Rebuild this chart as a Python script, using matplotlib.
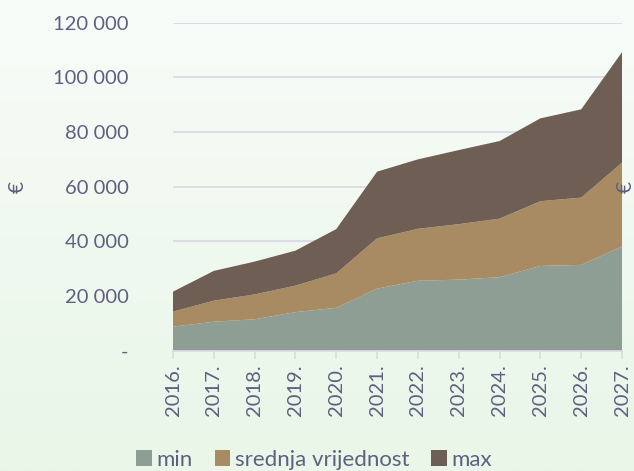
import numpy as np
import matplotlib
matplotlib.use("Agg")
import matplotlib.pyplot as plt
from matplotlib.patches import Patch
from matplotlib.colors import LinearSegmentedColormap

years = ["2016.", "2017.", "2018.", "2019.", "2020.", "2021.", "2022.", "2023.", "2024.", "2025.", "2026.", "2027."]
# cumulative tops (EUR)
min_vals = [8800, 10600, 11500, 14100, 15700, 22700, 25600, 26000, 26900, 31000, 31400, 38100]
mean_top = [14300, 18300, 20600, 23800, 28300, 41100, 44600, 46300, 48300, 54700, 56000, 68800]
max_top = [21600, 29200, 32600, 36600, 44500, 65500, 70000, 73400, 76700, 85000, 88300, 109200]
series_names = ["min", "srednja vrijednost", "max"]
yticks = [0, 20000, 40000, 60000, 80000, 100000, 120000]
ytick_labels = ["-", "20 000", "40 000", "60 000", "80 000", "100 000", "120 000"]

mean_layer = [m - n for m, n in zip(mean_top, min_vals)]
max_layer = [m - n for m, n in zip(max_top, mean_top)]

colors = ["#8e9e94", "#a98b63", "#6e5e54"]
text_color = "#5f6080"
grid_color = "#dcdae6"
font = "Lato"

fig = plt.figure(figsize=(6.34, 4.71), dpi=100)

# background gradient
bg = fig.add_axes([0, 0, 1, 1], zorder=-10)
cmap = LinearSegmentedColormap.from_list("bg", ["#f7fcf8", "#e9f6e8"])
grad = np.linspace(0, 1, 256).reshape(-1, 1)
bg.imshow(grad, aspect="auto", cmap=cmap, extent=[0, 1, 0, 1], origin="upper")
bg.axis("off")

ax = fig.add_axes([173 / 634, 1 - 350.7 / 471, (622 - 173) / 634, (350.7 - 22.7) / 471])
ax.set_facecolor("none")
x = np.arange(len(years))
ax.stackplot(x, min_vals, mean_layer, max_layer, colors=colors, labels=series_names, zorder=3)

ax.set_xlim(0, len(years) - 1)
ax.set_ylim(0, 120000)
ax.set_yticks(yticks)
ax.set_yticklabels(ytick_labels, fontsize=14.5, color=text_color, family=font)
ax.set_xticks(x)
ax.set_xticklabels(years, rotation=90, fontsize=14.5, color=text_color, family=font)
ax.tick_params(axis="y", length=0, pad=32)
ax.tick_params(axis="x", length=6, color=grid_color, width=1.2, pad=4)
ax.grid(axis="y", color=grid_color, linewidth=1.3, zorder=0)
ax.set_axisbelow(True)
for s in ["top", "right", "left"]:
    ax.spines[s].set_visible(False)
ax.spines["bottom"].set_color(grid_color)
ax.spines["bottom"].set_linewidth(1.2)
ax.spines["bottom"].set_zorder(4)

fig.text(18 / 634, 1 - 187 / 471, "€", rotation=90, fontsize=15, color=text_color,
         family=font, ha="center", va="center")
fig.text(626 / 634, 1 - 187 / 471, "€", rotation=90, fontsize=15, color=text_color,
         family=font, ha="center", va="center")

handles = [Patch(facecolor=c, edgecolor="none") for c in colors]
fig.legend(handles, series_names, loc="center", bbox_to_anchor=(314 / 634, 1 - 460 / 471),
           ncol=3, frameon=False, prop={"family": font, "size": 16},
           labelcolor=text_color, handlelength=0.7, handleheight=0.7,
           handletextpad=0.2, columnspacing=1.0)

fig.savefig("out.png", dpi=100)
